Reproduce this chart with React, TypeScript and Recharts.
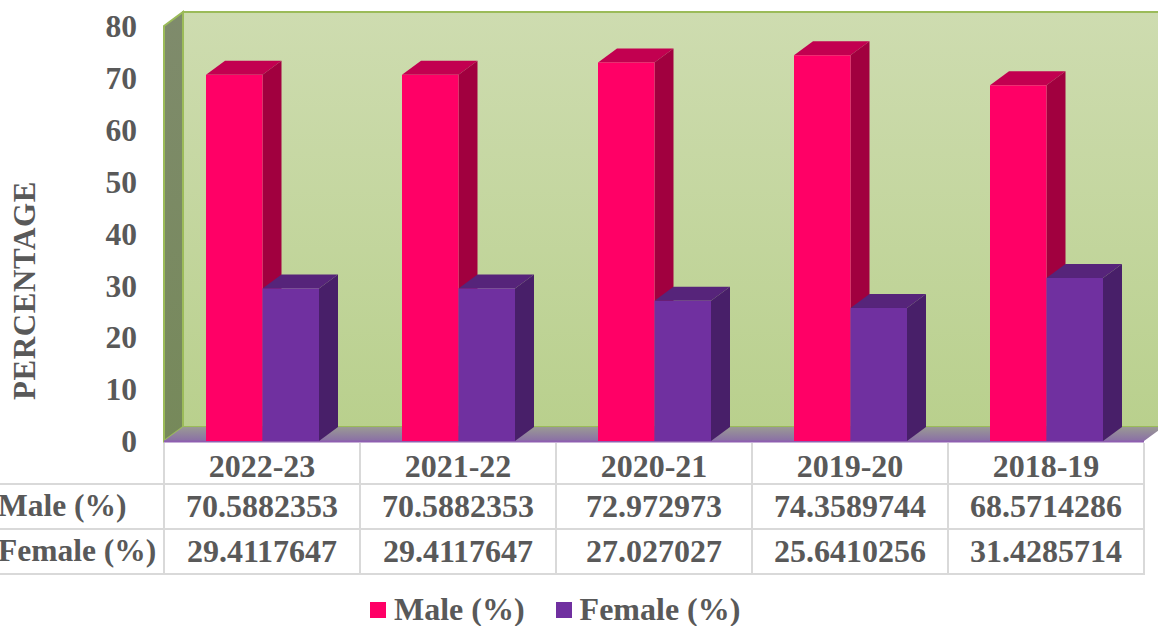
import { BarChart, Bar, XAxis, YAxis, Legend, usePlotArea } from "recharts";

const years = ["2022-23", "2021-22", "2020-21", "2019-20", "2018-19"];
const maleShare = [70.5882353, 70.5882353, 72.972973, 74.3589744, 68.5714286];
const femaleShare = [29.4117647, 29.4117647, 27.027027, 25.6410256, 31.4285714];
const maleLabels = ["70.5882353", "70.5882353", "72.972973", "74.3589744", "68.5714286"];
const femaleLabels = ["29.4117647", "29.4117647", "27.027027", "25.6410256", "31.4285714"];
const yTicks = [0, 10, 20, 30, 40, 50, 60, 70, 80];

const rows = years.map((year, i) => ({
  year,
  male: maleShare[i],
  female: femaleShare[i],
}));

const DEPTH_X = 19;
const DEPTH_Y = 14;
const ROW_LINES = [43, 88, 133]; // table rules, below the plot floor
const TEXT_COLOR = "#595959";
const GRID_COLOR = "#d9d9d9";
const FONT = "'Liberation Serif', serif";
const textStyle = { fontFamily: FONT, fontWeight: 700, fontSize: 31.5, fill: TEXT_COLOR };
const cellStyle = { ...textStyle, fontSize: 32 };

function pts(list: number[][]) {
  return list.map((p) => p.join(",")).join(" ");
}

function Bar3D(props: any) {
  const { x, y, width, height, fill, topFill, sideFill } = props;
  return (
    <g>
      <polygon
        points={pts([
          [x, y],
          [x + DEPTH_X, y - DEPTH_Y],
          [x + width + DEPTH_X, y - DEPTH_Y],
          [x + width, y],
        ])}
        fill={topFill}
      />
      <polygon
        points={pts([
          [x + width, y],
          [x + width + DEPTH_X, y - DEPTH_Y],
          [x + width + DEPTH_X, y + height - DEPTH_Y],
          [x + width, y + height],
        ])}
        fill={sideFill}
      />
      <rect x={x} y={y} width={width} height={height} fill={fill} />
    </g>
  );
}

// walls, floor and the rules of the data table
function Backdrop() {
  const plot = usePlotArea();
  if (!plot) return null;
  const { x, y, width, height } = plot;
  const bottom = y + height;
  const right = x + width;
  const step = width / years.length;
  return (
    <g>
      <defs>
        <linearGradient id="wallFill" x1="0" y1="0" x2="0" y2="1">
          <stop offset="0" stopColor="#cedcb0" />
          <stop offset="1" stopColor="#b9d08d" />
        </linearGradient>
        <linearGradient id="sideFill" x1="0" y1="0" x2="0" y2="1">
          <stop offset="0" stopColor="#7f8b6c" />
          <stop offset="1" stopColor="#76895a" />
        </linearGradient>
        <linearGradient id="floorFill" x1="0" y1="0" x2="0" y2="1">
          <stop offset="0" stopColor="#9a9a94" />
          <stop offset="1" stopColor="#8a6fa6" />
        </linearGradient>
      </defs>
      <polygon
        points={pts([
          [x + DEPTH_X, y - DEPTH_Y],
          [right + DEPTH_X, y - DEPTH_Y],
          [right + DEPTH_X, bottom - DEPTH_Y],
          [x + DEPTH_X, bottom - DEPTH_Y],
        ])}
        fill="url(#wallFill)"
        stroke="#9bbb59"
        strokeWidth={2}
      />
      <polygon
        points={pts([
          [x, y],
          [x + DEPTH_X, y - DEPTH_Y],
          [x + DEPTH_X, bottom - DEPTH_Y],
          [x, bottom],
        ])}
        fill="url(#sideFill)"
        stroke="#9bbb59"
        strokeWidth={2}
      />
      <polygon
        points={pts([
          [x, bottom],
          [x + DEPTH_X, bottom - DEPTH_Y],
          [right + DEPTH_X, bottom - DEPTH_Y],
          [right, bottom],
        ])}
        fill="url(#floorFill)"
      />
      <line x1={x} y1={bottom + 0.5} x2={right} y2={bottom + 0.5} stroke="#8e5fb0" strokeWidth={2} />
      {ROW_LINES.map((off) => (
        <line
          key={off}
          x1={0}
          x2={right + 1}
          y1={bottom + off}
          y2={bottom + off}
          stroke={GRID_COLOR}
          strokeWidth={2}
        />
      ))}
      {[0, 1, 2, 3, 4, 5].map((i) => (
        <line
          key={i}
          x1={x + i * step}
          x2={x + i * step}
          y1={bottom + 2}
          y2={bottom + ROW_LINES[2]}
          stroke={GRID_COLOR}
          strokeWidth={2}
        />
      ))}
      <text x={-2} y={bottom + 75} style={textStyle}>
        Male (%)
      </text>
      <text x={-2} y={bottom + 120} style={textStyle}>
        Female (%)
      </text>
    </g>
  );
}

// the x axis tick carries the whole table column for its year
function TableTick(props: any) {
  const { x, y, index, payload } = props;
  return (
    <g textAnchor="middle" style={cellStyle}>
      <text x={x} y={y + 34} style={cellStyle}>
        {payload.value}
      </text>
      <text x={x} y={y + 74} style={cellStyle}>
        {maleLabels[index]}
      </text>
      <text x={x} y={y + 119} style={cellStyle}>
        {femaleLabels[index]}
      </text>
    </g>
  );
}

function LegendRow(props: any) {
  return (
    <div style={{ display: "flex", position: "absolute", left: 370, top: 595, whiteSpace: "nowrap" }}>
      {props.payload.map((item: any) => (
        <div key={item.value} style={{ display: "flex", alignItems: "center", marginRight: 31 }}>
          <span style={{ width: 16, height: 16, background: item.color, marginRight: 8 }} />
          <span
            style={{
              fontFamily: FONT,
              fontWeight: 700,
              fontSize: 32,
              lineHeight: "30px",
              color: TEXT_COLOR,
              position: "relative",
              top: -1,
            }}
          >
            {item.value}
          </span>
        </div>
      ))}
    </div>
  );
}

export default function App() {
  return (
    <div style={{ position: "absolute", left: 0, top: 0, width: 1158, height: 626, overflow: "hidden" }}>
      <BarChart
        width={1158}
        height={626}
        data={rows}
        margin={{ top: 26, right: 14, bottom: 0, left: 0 }}
        barGap={0}
        barSize={56.5}
      >
        <Backdrop />
        <XAxis
          dataKey="year"
          axisLine={false}
          tickLine={false}
          tickSize={0}
          interval={0}
          height={185}
          tick={<TableTick />}
        />
        <YAxis
          domain={[0, 80]}
          ticks={yTicks}
          interval={0}
          width={164}
          axisLine={false}
          tickLine={false}
          tickSize={0}
          tickMargin={27}
          tick={textStyle}
          label={{
            value: "PERCENTAGE",
            angle: -90,
            position: "insideLeft",
            offset: 24,
            dy: 57,
            style: { ...textStyle, fontSize: 31, letterSpacing: 0.6, textAnchor: "middle" },
          }}
        />
        <Legend
          content={<LegendRow />}
          itemSorter={null}
          wrapperStyle={{ left: 0, top: 0, bottom: "auto", width: 0, height: 0 }}
        />
        <Bar
          dataKey="male"
          name="Male (%)"
          fill="#ff0066"
          isAnimationActive={false}
          shape={<Bar3D topFill="#c20050" sideFill="#a1003f" />}
        />
        <Bar
          dataKey="female"
          name="Female (%)"
          fill="#7030a0"
          isAnimationActive={false}
          shape={<Bar3D topFill="#56247a" sideFill="#481f69" />}
        />
      </BarChart>
    </div>
  );
}
